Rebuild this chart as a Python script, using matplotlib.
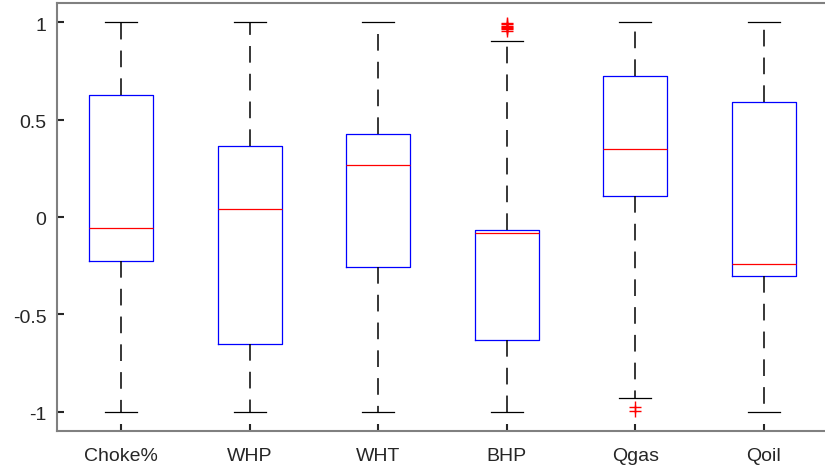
import matplotlib
matplotlib.use("Agg")
import matplotlib.pyplot as plt
import matplotlib.transforms as mtransforms

plt.rcParams['font.family'] = ['Liberation Sans', 'DejaVu Sans']
plt.rcParams['lines.scale_dashes'] = False

categories = ["Choke%", "WHP", "WHT", "BHP", "Qgas", "Qoil"]
whisker_low = [-1.0, -1.0, -1.0, -1.0, -0.928, -1.0]
q1 = [-0.227, -0.655, -0.258, -0.634, 0.108, -0.304]
medians = [-0.057, 0.041, 0.268, -0.082, 0.350, -0.242]
q3 = [0.629, 0.366, 0.428, -0.067, 0.727, 0.593]
whisker_high = [1.0, 1.0, 1.0, 0.907, 1.0, 1.0]
outliers = [[], [], [], [0.955, 0.965, 0.972, 0.978, 0.984, 0.99, 0.995], [-0.975, -0.995], []]
yticks = [-1, -0.5, 0, 0.5, 1]
yticklabels = ["-1", "-0.5", "0", "0.5", "1"]

stats = []
for i, name in enumerate(categories):
    stats.append(dict(label=name, whislo=whisker_low[i], q1=q1[i], med=medians[i],
                      q3=q3[i], whishi=whisker_high[i], fliers=outliers[i]))

W, H = 825, 467
fig = plt.figure(figsize=(W / 100, H / 100), dpi=100)
left, right, top, bottom = 57, 828, 3, 431
ax = fig.add_axes([left / W, 1 - bottom / H, (right - left) / W, (bottom - top) / H])

gray = '#262626'
ax.bxp(stats, positions=range(1, 7), widths=0.5, showfliers=True,
       boxprops=dict(color='#0000ff', linewidth=0.9),
       medianprops=dict(color='#ff0000', linewidth=0.9),
       whiskerprops=dict(color='black', linewidth=1.1, linestyle=(0, (12, 8))),
       capprops=dict(color='black', linewidth=0.9),
       capwidths=0.25,
       flierprops=dict(marker='+', markeredgecolor='#ff0000', markersize=9, markeredgewidth=1.0,
                       linestyle='none'))

ax.set_xlim(0.5, 6.5)
ax.set_ylim(-1.1, 1.1)
ax.set_yticks(yticks)
ax.set_yticklabels(yticklabels)
ax.set_xticks(range(1, 7))
ax.set_xticklabels(categories)
ax.tick_params(direction='in', length=5, width=1.5, colors=gray, labelsize=14)
ax.tick_params(axis='x', pad=12)
ax.tick_params(axis='y', pad=7.5)
offset = mtransforms.ScaledTranslation(0, -2 / 100, fig.dpi_scale_trans)
for lab in ax.get_yticklabels():
    lab.set_transform(lab.get_transform() + offset)
for lab in ax.get_xticklabels() + ax.get_yticklabels():
    lab.set_color(gray)
for s in ['left', 'bottom', 'top']:
    ax.spines[s].set_color('#808080')
    ax.spines[s].set_linewidth(1.5)
ax.spines['right'].set_visible(False)

fig.savefig("out.png", dpi=100)
